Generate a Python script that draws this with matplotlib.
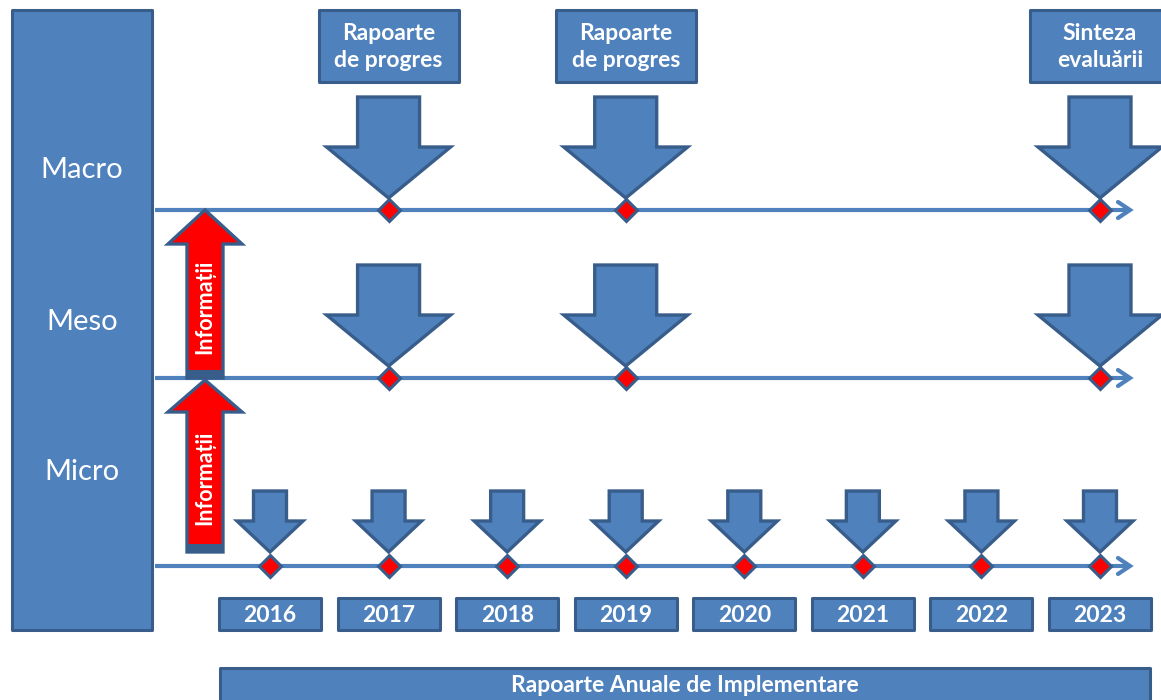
import matplotlib
matplotlib.use('Agg')
import matplotlib.pyplot as plt
from matplotlib.patches import Polygon, Rectangle

plt.rcParams['font.family'] = ['Lato', 'DejaVu Sans']

# data
years = [2016, 2017, 2018, 2019, 2020, 2021, 2022, 2023]
levels = ['Macro', 'Meso', 'Micro']
macro_events = [2017, 2019, 2023]
meso_events = [2017, 2019, 2023]
micro_events = years
top_label_years = [2017, 2019, 2023]
top_labels = ['Rapoarte\nde progres', 'Rapoarte\nde progres', 'Sinteza\nevaluării']
bottom_label = 'Rapoarte Anuale de Implementare'
info_label = 'Informații'

BLUE = '#4F81BD'
DARK = '#385D8A'
RED = '#FF0000'

# x axis in years, y axis in pixel rows
PX = 118.57
X0 = years[0] - 270 / PX
X1 = X0 + 1161 / PX


def px(x):
    return X0 + x / PX


def w(p):
    return p / PX


fig = plt.figure(figsize=(11.61, 7.0), dpi=100)
ax = fig.add_axes([0, 0, 1, 1])
ax.set_xlim(X0, X1)
ax.set_ylim(700, 0)
ax.axis('off')


def box(x0, x1, y0, y1, text=None, size=16.5, weight='bold'):
    ax.add_patch(Rectangle((x0, y0), x1 - x0, y1 - y0, facecolor=BLUE,
                           edgecolor=DARK, lw=2.2, joinstyle='round', zorder=2))
    if text:
        ax.text((x0 + x1) / 2, (y0 + y1) / 2 + 1, text, color='white', fontsize=size,
                fontweight=weight, ha='center', va='center', linespacing=1.3, zorder=3)


def down_arrow(x, tip, length, head_len, head_hw, shaft_hw):
    pts = [(x - w(shaft_hw), tip - length), (x + w(shaft_hw), tip - length),
           (x + w(shaft_hw), tip - head_len), (x + w(head_hw), tip - head_len),
           (x, tip), (x - w(head_hw), tip - head_len), (x - w(shaft_hw), tip - head_len)]
    ax.add_patch(Polygon(pts, closed=True, facecolor=BLUE, edgecolor=DARK,
                         lw=2.4, joinstyle='miter', zorder=4))


def up_arrow(x, tip, bottom, head_len, head_hw, shaft_hw):
    pts = [(x - w(shaft_hw), bottom), (x + w(shaft_hw), bottom),
           (x + w(shaft_hw), tip + head_len), (x + w(head_hw), tip + head_len),
           (x, tip), (x - w(head_hw), tip + head_len), (x - w(shaft_hw), tip + head_len)]
    ax.add_patch(Polygon(pts, closed=True, facecolor=RED, edgecolor=DARK,
                         lw=2.4, joinstyle='miter', zorder=4))
    ax.add_patch(Rectangle((x - w(shaft_hw), bottom - 8), w(2 * shaft_hw), 8,
                           facecolor=DARK, edgecolor='none', zorder=5))
    ax.text(x, (tip + head_len + bottom) / 2 - 4, info_label, rotation=90, color='white',
            fontsize=15.5, fontweight='bold', ha='center', va='center', zorder=6)


# left level column
box(px(12), px(152), 10, 630)
level_text_y = [170, 322, 472]
for name, ty in zip(levels, level_text_y):
    ax.text(px(82), ty, name, color='white', fontsize=21, ha='center', va='center', zorder=3)

# timelines
line_y = [210, 378, 566]
events = [macro_events, meso_events, micro_events]
for ly, ev in zip(line_y, events):
    end = years[-1] + w(30)
    ax.plot([px(155), end], [ly, ly], color=BLUE, lw=3, zorder=3, solid_capstyle='butt')
    ax.plot([end - w(12), end, end - w(12)], [ly - 8, ly, ly + 8], color=BLUE, lw=3,
            zorder=3, solid_capstyle='round', solid_joinstyle='miter')
    ax.plot(ev, [ly] * len(ev), 'D', markersize=11, markerfacecolor=RED,
            markeredgecolor=DARK, markeredgewidth=2.2, zorder=6)

# big arrows on macro and meso
for ly, ev in zip(line_y[:2], events[:2]):
    for yr in ev:
        down_arrow(yr, ly - 12, 101, 51, 62, 31)

# small arrows on micro
for yr in micro_events:
    down_arrow(yr, line_y[2] - 14, 61, 31, 33, 16.5)

# red information arrows
up_arrow(px(205), line_y[0], line_y[1], 34, 37, 18)
up_arrow(px(205), line_y[1] + 2, 552, 32, 37, 18)

# top labels
for yr, lab in zip(top_label_years, top_labels):
    box(yr - w(70), yr + w(70), 10, 82, lab)

# year boxes
for yr in years:
    box(yr - w(51), yr + w(51), 598, 630, str(yr))

# bottom label
box(px(220), px(1150), 668, 712, None)
ax.text(px(685), 686, bottom_label, color='white', fontsize=16.5, fontweight='bold',
        ha='center', va='center', zorder=3)

fig.savefig('out.png', dpi=100)
